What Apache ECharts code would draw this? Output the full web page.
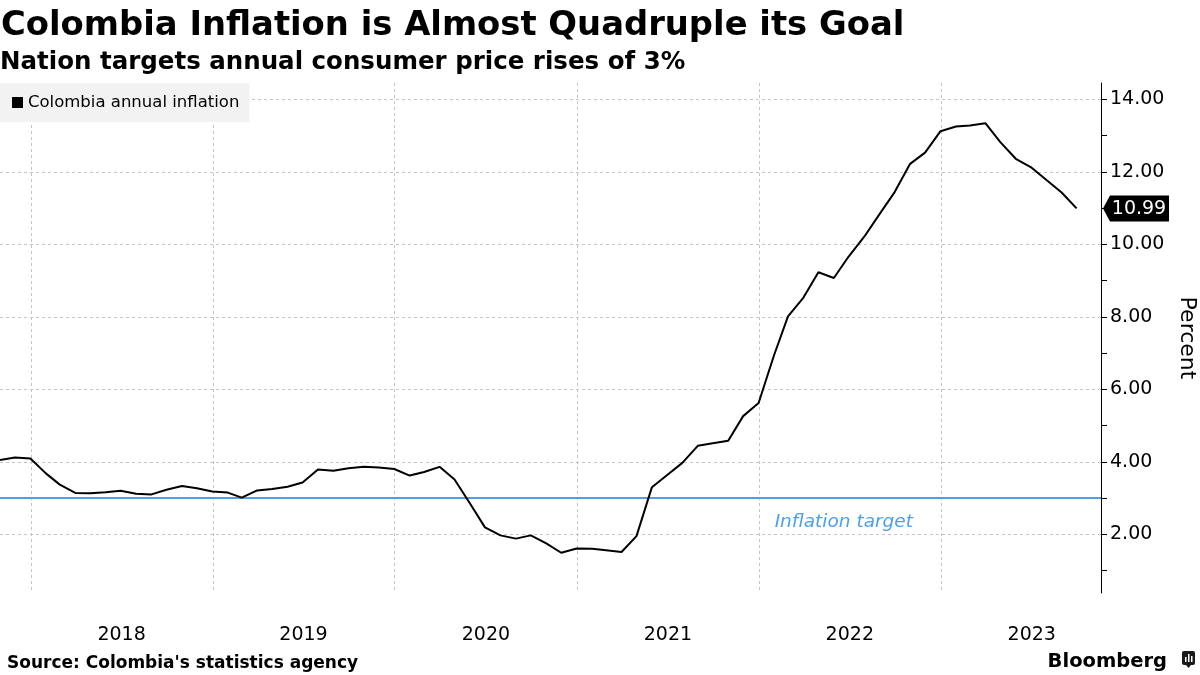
<!DOCTYPE html>
<html>
<head>
<meta charset="utf-8">
<script src="https://cdn.jsdelivr.net/npm/echarts@6/dist/echarts.min.js"></script>
<style>html,body{margin:0;padding:0;background:#fff;overflow:hidden}#c{width:1200px;height:675px}</style>
</head>
<body>
<div id="c"></div>
<script>
// Month-end dates (Bloomberg plots monthly data at month end)
var dates = [
  '2017-10-31','2017-11-30','2017-12-31',
  '2018-01-31','2018-02-28','2018-03-31','2018-04-30','2018-05-31','2018-06-30','2018-07-31','2018-08-31','2018-09-30','2018-10-31','2018-11-30','2018-12-31',
  '2019-01-31','2019-02-28','2019-03-31','2019-04-30','2019-05-31','2019-06-30','2019-07-31','2019-08-31','2019-09-30','2019-10-31','2019-11-30','2019-12-31',
  '2020-01-31','2020-02-29','2020-03-31','2020-04-30','2020-05-31','2020-06-30','2020-07-31','2020-08-31','2020-09-30','2020-10-31','2020-11-30','2020-12-31',
  '2021-01-31','2021-02-28','2021-03-31','2021-04-30','2021-05-31','2021-06-30','2021-07-31','2021-08-31','2021-09-30','2021-10-31','2021-11-30','2021-12-31',
  '2022-01-31','2022-02-28','2022-03-31','2022-04-30','2022-05-31','2022-06-30','2022-07-31','2022-08-31','2022-09-30','2022-10-31','2022-11-30','2022-12-31',
  '2023-01-31','2023-02-28','2023-03-31','2023-04-30','2023-05-31','2023-06-30','2023-07-31','2023-08-31','2023-09-30'
];
var inflation = [
  4.05, 4.12, 4.09,
  3.68, 3.37, 3.14, 3.13, 3.16, 3.20, 3.12, 3.10, 3.23, 3.33, 3.27, 3.18,
  3.15, 3.01, 3.21, 3.25, 3.31, 3.43, 3.79, 3.75, 3.82, 3.86, 3.84, 3.80,
  3.62, 3.72, 3.86, 3.51, 2.85, 2.19, 1.97, 1.88, 1.97, 1.75, 1.49, 1.61,
  1.60, 1.56, 1.51, 1.95, 3.30, 3.63, 3.97, 4.44, 4.51, 4.58, 5.26, 5.62,
  6.94, 8.01, 8.53, 9.23, 9.07, 9.67, 10.21, 10.84, 11.44, 12.22, 12.53, 13.12,
  13.25, 13.28, 13.34, 12.82, 12.36, 12.13, 11.78, 11.43, 10.99
];
var targetValue = 3;
var yearStarts = ['2018-01-01','2019-01-01','2020-01-01','2021-01-01','2022-01-01','2023-01-01'];
var yearLabelDates = ['2018-07-02','2019-07-02','2020-07-02','2021-07-02','2022-07-02','2023-07-02'];
var yTickValues = [1,2,3,4,5,6,7,8,9,10,11,12,13,14];
var yLabelValues = [2,4,6,8,10,12,14];
var xMinDate = '2017-10-31', xMaxDate = '2023-11-18';
var yMin = 0.38, yMax = 14.45;

function ts(d) { return Date.parse(d + 'T00:00:00Z'); }
var seriesData = dates.map(function (d, i) { return [ts(d), inflation[i]]; });
var lastVal = inflation[inflation.length - 1];
var xMin = ts(xMinDate), xMax = ts(xMaxDate);
var FONT = 'DejaVu Sans';
var BLUE = '#4d9fec';

var chart = echarts.init(document.getElementById('c'), null, {renderer: 'canvas'});
chart.setOption({
  animation: false,
  backgroundColor: '#fff',
  textStyle: {fontFamily: FONT},
  title: [
    {text: 'Colombia Inflation is Almost Quadruple its Goal', left: 1, top: 9, padding: 0,
     textStyle: {fontFamily: FONT, fontWeight: 'bold', fontSize: 33.8, color: '#000'}},
    {text: 'Nation targets annual consumer price rises of 3%', left: 0, top: 50, padding: 0,
     textStyle: {fontFamily: FONT, fontWeight: 'bold', fontSize: 24.5, color: '#000'}},
    {text: "Source: Colombia's statistics agency", left: 7, top: 655, padding: 0,
     textStyle: {fontFamily: FONT, fontWeight: 'bold', fontSize: 17, color: '#000'}},
    {text: 'Bloomberg', right: 33, top: 652, padding: 0,
     textStyle: {fontFamily: FONT, fontWeight: 'bold', fontSize: 19.5, color: '#000'}}
  ],
  graphic: [
    {type: 'group', right: 5, top: 651, children: [
      {type: 'rect', shape: {x: 0, y: 0, width: 13, height: 14, r: 2}, style: {fill: '#1a1a1a'}},
      {type: 'polygon', shape: {points: [[4, 14], [9, 14], [6.5, 17]]}, style: {fill: '#1a1a1a'}},
      {type: 'rect', shape: {x: 3, y: 6, width: 1.5, height: 5}, style: {fill: '#fff'}},
      {type: 'rect', shape: {x: 6, y: 3, width: 1.5, height: 8}, style: {fill: '#fff'}},
      {type: 'rect', shape: {x: 9, y: 5, width: 1.5, height: 6}, style: {fill: '#fff'}}
    ]}
  ],
  legend: {
    left: 0, top: 83, padding: [11, 10, 11, 12],
    backgroundColor: '#f2f2f2', borderRadius: 0,
    icon: 'rect', itemWidth: 11, itemHeight: 11, itemGap: 5,
    textStyle: {fontFamily: FONT, fontSize: 16.5, color: '#000'},
    data: ['Colombia annual inflation']
  },
  grid: {left: 0, right: 99, top: 83, bottom: 82, containLabel: false, outerBoundsMode: 'none'},
  xAxis: {
    type: 'value', min: xMin, max: xMax,
    axisLine: {show: false},
    axisTick: {show: false, customValues: yearStarts.map(ts)},
    splitLine: {show: true, lineStyle: {color: '#c4c4c4', type: [3, 3], width: 1}},
    axisLabel: {
      customValues: yearLabelDates.map(ts),
      formatter: function (v) { return String(new Date(v).getUTCFullYear()); },
      color: '#000', fontSize: 19, fontFamily: FONT, margin: 33
    }
  },
  yAxis: [
    {
      type: 'value', position: 'right', min: yMin, max: yMax,
      axisLine: {show: true, onZero: false, lineStyle: {color: '#000', width: 1}},
      axisTick: {show: true, inside: false, length: 6, customValues: yTickValues, lineStyle: {color: '#000'}},
      axisLabel: {customValues: yLabelValues, formatter: function (v) { return Number(v).toFixed(2); },
                  color: '#000', fontSize: 19, fontFamily: FONT, margin: 9, padding: [4, 0, 0, 0]},
      splitLine: {show: false},
      name: 'Percent', nameLocation: 'middle', nameRotate: -90, nameGap: 73,
      nameTextStyle: {fontSize: 22, color: '#000', fontFamily: FONT}
    },
    {
      type: 'value', position: 'right', min: yMin, max: yMax,
      axisLine: {show: false}, axisLabel: {show: false},
      axisTick: {show: false, customValues: yLabelValues},
      splitLine: {show: true, lineStyle: {color: '#c4c4c4', type: [3, 3], width: 1}}
    }
  ],
  series: [
    {
      name: 'Colombia annual inflation', type: 'line', yAxisIndex: 0,
      data: seriesData, showSymbol: false, symbol: 'none',
      itemStyle: {color: '#000'},
      lineStyle: {color: '#000', width: 2},
      z: 5,
      markLine: {
        silent: true, symbol: ['none', 'none'],
        lineStyle: {color: BLUE, width: 2, type: 'solid'},
        label: {show: true, formatter: 'Inflation target', position: 'insideEndBottom',
                distance: [188, 15], color: BLUE, fontStyle: 'italic', fontSize: 18.5, fontFamily: FONT},
        data: [{yAxis: targetValue}]
      },
      markPoint: {
        silent: true,
        symbol: 'path://M0,13 L7,0 L66,0 L66,26 L7,26 Z',
        symbolSize: [66, 26], symbolKeepAspect: false,
        symbolOffset: [35, 0],
        itemStyle: {color: '#000'},
        label: {show: true, position: 'inside', offset: [3, 1], color: '#fff', fontSize: 19, fontFamily: FONT,
                formatter: function (p) { return Number(p.value).toFixed(2); }},
        data: [{coord: [xMax, lastVal], value: lastVal}]
      }
    }
  ]
});
</script>
</body>
</html>
